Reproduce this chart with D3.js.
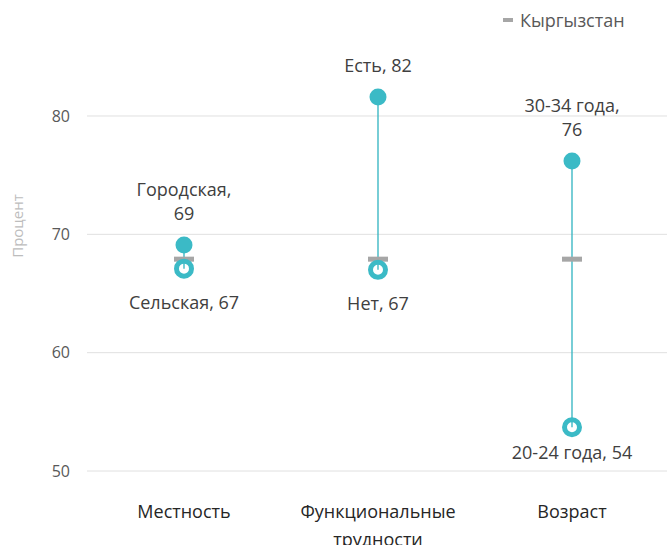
<!DOCTYPE html>
<html><head><meta charset="utf-8">
<script src="https://cdn.jsdelivr.net/npm/d3@7"></script>
<style>body{margin:0;background:#fff}svg{display:block;font-family:"Open Sans",sans-serif}</style>
</head><body><svg id="c" width="667" height="545"></svg>
<script>
const categories = ["Местность", "Функциональные трудности", "Возраст"];
const highLabels = ["Городская", "Есть", "30-34 года"];
const highValues = [69.1, 81.6, 76.2];
const lowLabels = ["Сельская", "Нет", "20-24 года"];
const lowValues = [67.1, 67.0, 53.7];
const nationalName = "Кыргызстан";
const nationalValue = 67.9;
const yTicks = [50, 60, 70, 80];
const yTitle = "Процент";

const svg = d3.select("#c");
const teal = "#3BBAC6", gray = "#A6A6A6", txt = "#404040";
const x = d3.scaleBand().domain(categories).range([87, 669]);
const y = d3.scaleLinear().domain([50, 85]).range([471, 56.8]);
const cx = d => x(d) + x.bandwidth() / 2;

// grid
svg.append("g").selectAll("line").data(yTicks).join("line")
  .attr("x1", 87).attr("x2", 667).attr("y1", d => y(d)).attr("y2", d => y(d))
  .attr("stroke", "#e0e0e0").attr("stroke-width", 1);
const yAxis = svg.append("g").attr("transform", "translate(87,0)")
  .call(d3.axisLeft(y).tickValues(yTicks).tickSize(0).tickPadding(17));
yAxis.select(".domain").remove();
yAxis.selectAll("text").attr("font-size", 16).attr("fill", "#595959").attr("font-family", "Open Sans");

svg.append("text").attr("transform", `translate(23,${y(70.7)}) rotate(-90)`)
  .attr("text-anchor", "middle").attr("font-size", 15).attr("fill", "#bdbdbd").text(yTitle);

// x labels
function wrapText(sel, width) {
  sel.each(function() {
    const t = d3.select(this), words = t.text().split(/\s+/);
    const xx = t.attr("x"), yy = +t.attr("y");
    t.text(null);
    let line = [], ln = 0, ts = t.append("tspan").attr("x", xx).attr("y", yy);
    for (const w of words) {
      line.push(w); ts.text(line.join(" "));
      if (ts.node().getComputedTextLength() > width && line.length > 1) {
        line.pop(); ts.text(line.join(" ")); line = [w]; ln++;
        ts = t.append("tspan").attr("x", xx).attr("y", yy + ln * 28).text(w);
      }
    }
  });
}
svg.append("g").selectAll("text").data(categories).join("text")
  .attr("x", d => cx(d)).attr("y", 518).attr("text-anchor", "middle")
  .attr("font-size", 18).attr("fill", "#262626").text(d => d)
  .call(wrapText, 185);

// stems
svg.append("g").selectAll("line").data(categories).join("line")
  .attr("x1", d => cx(d)).attr("x2", d => cx(d))
  .attr("y1", (d, i) => y(highValues[i])).attr("y2", (d, i) => y(lowValues[i]))
  .attr("stroke", "#2FB3C0").attr("stroke-width", 1.3);

// national marker
svg.append("g").selectAll("rect").data(categories).join("rect")
  .attr("x", d => cx(d) - 10).attr("y", y(nationalValue) - 2.5).attr("width", 20).attr("height", 5)
  .attr("fill", gray);

// low (hollow)
svg.append("g").selectAll("circle").data(categories).join("circle")
  .attr("cx", d => cx(d)).attr("cy", (d, i) => y(lowValues[i])).attr("r", 7.5)
  .attr("fill", "none").attr("stroke", teal).attr("stroke-width", 5);
// high (filled)
svg.append("g").selectAll("circle").data(categories).join("circle")
  .attr("cx", d => cx(d)).attr("cy", (d, i) => y(highValues[i])).attr("r", 8.5)
  .attr("fill", teal);

// labels high
categories.forEach((c, i) => {
  const full = highLabels[i] + ", " + Math.round(highValues[i]);
  const t = svg.append("text").attr("text-anchor", "middle").attr("font-size", 18).attr("fill", txt);
  const baseY = y(highValues[i]) - 25;
  t.text(full);
  if (t.node().getComputedTextLength() > 110) {
    t.text(null);
    t.append("tspan").attr("x", cx(c)).attr("y", baseY - 24).text(highLabels[i] + ",");
    t.append("tspan").attr("x", cx(c)).attr("y", baseY).text(Math.round(highValues[i]));
  } else {
    t.attr("x", cx(c)).attr("y", baseY);
  }
});
// labels low
categories.forEach((c, i) => {
  const by = Math.min(y(lowValues[i]) + 40, 459);
  svg.append("text").attr("x", cx(c)).attr("y", by).attr("text-anchor", "middle")
    .attr("font-size", 18).attr("fill", txt).text(lowLabels[i] + ", " + Math.round(lowValues[i]));
});

// legend
svg.append("rect").attr("x", 503).attr("y", 18).attr("width", 10).attr("height", 4).attr("fill", gray);
svg.append("text").attr("x", 520).attr("y", 26.5).attr("font-size", 18).attr("fill", "#595959").text(nationalName);
</script></body></html>
